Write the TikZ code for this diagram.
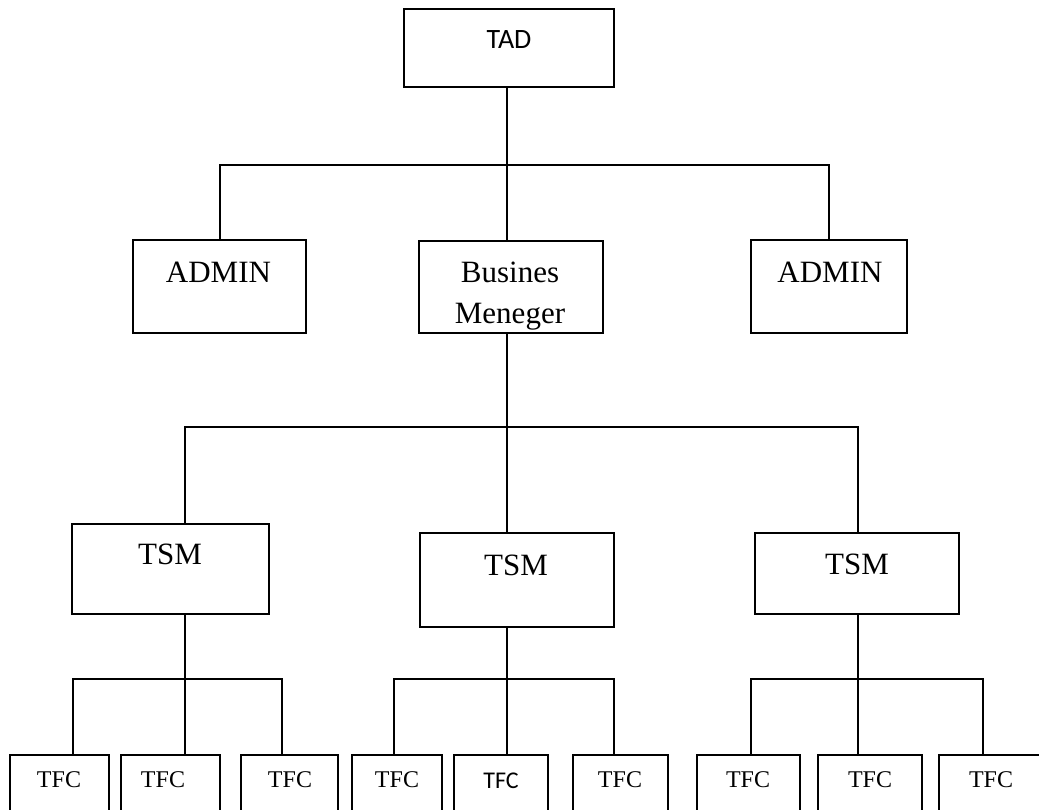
\documentclass[tikz,border=0pt]{standalone}
\usepackage{fontspec}
\setmainfont{Liberation Serif}
\newfontfamily\calfont{Carlito}
\begin{document}
\begin{tikzpicture}[x=1pt,y=-1pt,
  box/.style={draw=black,line width=2pt,fill=white,inner sep=0pt,outer sep=0pt},
  conn/.style={draw=black,line width=2pt},
  big/.style={inner sep=0pt,anchor=base,font=\fontsize{31}{38}\selectfont},
  small/.style={inner sep=0pt,anchor=base,font=\fontsize{24}{29}\selectfont},
  tadtxt/.style={inner sep=0pt,anchor=base,font=\calfont\fontsize{28}{34}\selectfont},
  sanstfc/.style={inner sep=0pt,anchor=base,font=\calfont\fontsize{24}{29}\selectfont},
  tfcbox/.style={box,minimum height=85pt}]
\useasboundingbox (0,0) rectangle (1039,809);
\clip (0,0) rectangle (1039,809);
\fill[white] (0,0) rectangle (1039,809);
% boxes
\node[box,minimum width=210pt,minimum height=78pt] (tad) at (509,48) {};
\node[box,minimum width=173pt,minimum height=93pt] (adl) at (219,286.5) {};
\node[box,minimum width=184pt,minimum height=92pt] (bus) at (511,286.5) {};
\node[box,minimum width=156pt,minimum height=93pt] (adr) at (829,286.5) {};
\node[box,minimum width=197pt,minimum height=90pt] (tsml) at (170.5,569) {};
\node[box,minimum width=194pt,minimum height=94pt] (tsmm) at (517,580) {};
\node[box,minimum width=204pt,minimum height=81pt] (tsmr) at (857,573.5) {};
\node[tfcbox,minimum width=99pt] (f1) at (59.5,797.5) {};
\node[tfcbox,minimum width=99pt] (f2) at (170.5,797.5) {};
\node[tfcbox,minimum width=97pt] (f3) at (289.5,797.5) {};
\node[tfcbox,minimum width=90pt] (f4) at (397,797.5) {};
\node[tfcbox,minimum width=94pt] (f5) at (501,797.5) {};
\node[tfcbox,minimum width=95pt] (f6) at (620.5,797.5) {};
\node[tfcbox,minimum width=103pt] (f7) at (748.5,797.5) {};
\node[tfcbox,minimum width=104pt] (f8) at (870,797.5) {};
\node[tfcbox,minimum width=103pt] (f9) at (990.5,797.5) {};
% junction coordinates
\coordinate (c1) at (507,165);
\coordinate (c2) at (507,427);
\coordinate (c3) at (185,679);
\coordinate (c4) at (507,679);
\coordinate (c5) at (858,679);
% connectors level 1
\draw[conn] (tad.south -| c1) -- (bus.north -| c1);
\draw[conn] (adl.north -| 220,0) |- (c1) -| (adr.north);
% level 2
\draw[conn] (bus.south -| c2) -- (c2);
\draw[conn] (tsml.north -| c3) |- (c2) -| (tsmr.north -| c5);
\draw[conn] (c2) -- (tsmm.north -| c2);
% level 3
\draw[conn] (tsml.south -| c3) -- (c3);
\draw[conn] (f1.north -| 73,0) |- (c3) -| (f3.north -| 282,0);
\draw[conn] (c3) -- (f2.north -| c3);
\draw[conn] (tsmm.south -| c4) -- (c4);
\draw[conn] (f4.north -| 394,0) |- (c4) -| (f6.north -| 614,0);
\draw[conn] (c4) -- (f5.north -| c4);
\draw[conn] (tsmr.south -| c5) -- (c5);
\draw[conn] (f7.north -| 751,0) |- (c5) -| (f9.north -| 983,0);
\draw[conn] (c5) -- (f8.north -| c5);
% texts
\node[tadtxt] (tadt) at (509,48) {TAD};
\node[big] (adlt) at (218.5,282) {ADMIN};
\node[big] (adrt) at (830,282) {ADMIN};
\node[big] (bust1) at (510,282) {Busines};
\node[big] (bust2) at (510,323) {Meneger};
\node[big] (tsmlt) at (170,564) {TSM};
\node[big] (tsmmt) at (516,575) {TSM};
\node[big] (tsmrt) at (857,574) {TSM};
\node[small] (t1) at (59,787) {TFC};
\node[small] (t2) at (163,787) {TFC};
\node[small] (t3) at (290,787) {TFC};
\node[small] (t4) at (397,787) {TFC};
\node[sanstfc] (t5) at (501,788) {TFC};
\node[small] (t6) at (620,787) {TFC};
\node[small] (t7) at (748,787) {TFC};
\node[small] (t8) at (870,787) {TFC};
\node[small] (t9) at (991,787) {TFC};
% bottom of business box drawn over text (as in reference)
\draw[conn] (bus.south west) -- (bus.south east);
\end{tikzpicture}
\end{document}
